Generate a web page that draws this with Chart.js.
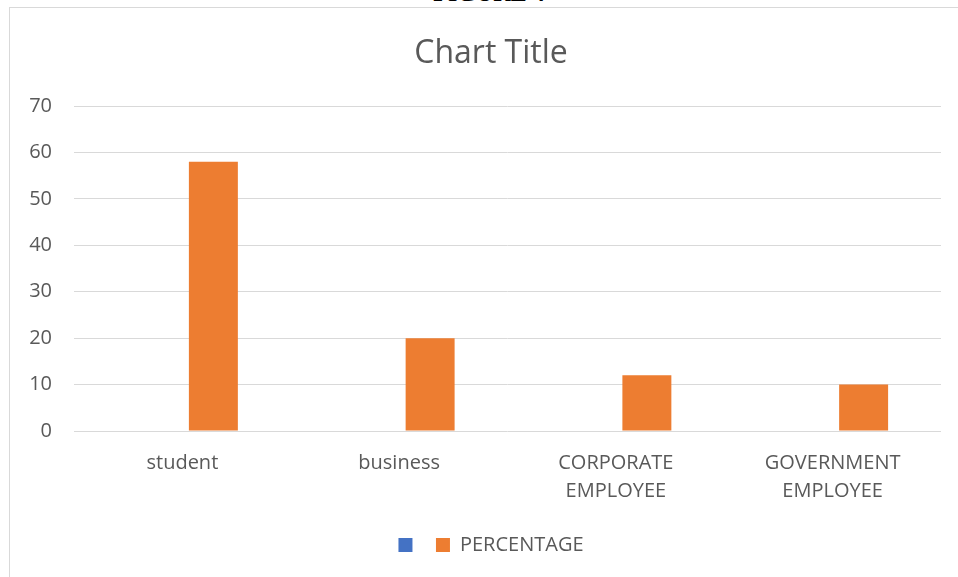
<!DOCTYPE html>
<html>
<head>
<meta charset="utf-8">
<script src="https://cdn.jsdelivr.net/npm/chart.js@4.4.1/dist/chart.umd.min.js"></script>
<style>
  html, body { margin: 0; padding: 0; background: #ffffff; overflow: hidden; }
  #wrap { position: relative; width: 958px; height: 577px; overflow: hidden; }
  #frame { position: absolute; left: 9px; top: 7px; width: 1000px; height: 600px; border: 1px solid #d9d9d9; box-sizing: border-box; pointer-events: none; }
  #fig { position: absolute; left: 0; width: 978px; top: -19px; text-align: center; font-family: "Liberation Serif", serif; font-weight: bold; font-size: 24px; line-height: 24px; color: #000; }
  canvas { position: absolute; left: 0; top: 0; }
</style>
</head>
<body>
<div id="wrap">
  <div id="fig">FIGURE 4</div>
  <div id="frame"></div>
  <canvas id="c" width="987" height="577"></canvas>
</div>
<script>
const categories = ['student', 'business', ['CORPORATE', 'EMPLOYEE'], ['GOVERNMENT', 'EMPLOYEE']];
const blankSeries = [null, null, null, null];
const percentage = [58, 20, 12, 10];
const yTicks = [0, 10, 20, 30, 40, 50, 60, 70];

const textColor = '#595959';
const fontFamily = "'Open Sans', 'Liberation Sans', sans-serif";

new Chart(document.getElementById('c'), {
  type: 'bar',
  data: {
    labels: categories,
    datasets: [
      { label: '', data: blankSeries, backgroundColor: '#4472C4', categoryPercentage: 0.572, barPercentage: 0.79 },
      { label: 'PERCENTAGE', data: percentage, backgroundColor: '#ED7D31', categoryPercentage: 0.572, barPercentage: 0.79 }
    ]
  },
  options: {
    responsive: false,
    animation: false,
    layout: { padding: { top: 8, left: 12, right: 17, bottom: 12 } },
    plugins: {
      tooltip: { enabled: false },
      title: {
        display: true,
        text: 'Chart Title',
        color: textColor,
        font: { family: fontFamily, size: 32, weight: 'normal' },
        padding: { top: 27, bottom: 32.6 }
      },
      legend: {
        position: 'bottom',
        labels: {
          color: textColor,
          font: { family: fontFamily, size: 20 },
          boxWidth: 14,
          boxHeight: 14,
          padding: 13.5
        }
      }
    },
    scales: {
      x: {
        grid: { display: false, drawTicks: false },
        border: { display: false },
        ticks: {
          color: textColor,
          font: { family: fontFamily, size: 20, lineHeight: 1.4 },
          padding: 18.5,
          maxRotation: 0,
          autoSkip: false
        },
        afterFit: (s) => { s.height = 90.5; }
      },
      y: {
        min: 0,
        max: 70,
        afterBuildTicks: (s) => { s.ticks = yTicks.map(v => ({ value: v })); },
        grid: { color: '#d9d9d9', lineWidth: 1, drawTicks: false },
        border: { display: false },
        ticks: {
          color: textColor,
          font: { family: fontFamily, size: 20 },
          padding: 22
        },
        afterFit: (s) => { s.width = 62; }
      },
      spacer: {
        type: 'linear',
        position: 'right',
        display: true,
        grid: { display: false, drawTicks: false },
        border: { display: false },
        ticks: { display: false },
        afterFit: (s) => { s.width = 29; }
      }
    }
  }
});
</script>
</body>
</html>
